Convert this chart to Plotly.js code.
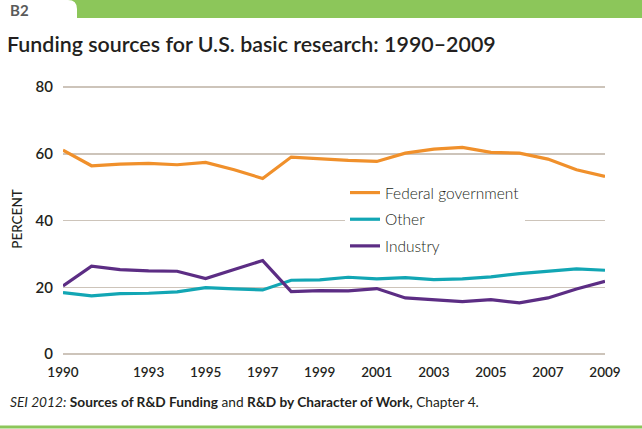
<!DOCTYPE html>
<html>
<head>
<meta charset="utf-8">
<script src="https://cdn.plot.ly/plotly-3.0.1.min.js"></script>
<style>
  html, body { margin: 0; padding: 0; background: #fff; }
  #chart { width: 642px; height: 429px; }
</style>
</head>
<body>
<div id="chart"></div>
<script>
const years = [1990,1991,1992,1993,1994,1995,1996,1997,1998,1999,2000,2001,2002,2003,2004,2005,2006,2007,2008,2009];
const federal = [61.1,56.4,56.9,57.1,56.7,57.4,55.2,52.6,59.0,58.4,58.0,57.7,60.2,61.4,61.9,60.4,60.2,58.4,55.2,53.2];
const other = [18.4,17.4,18.1,18.2,18.6,19.9,19.5,19.2,22.1,22.2,23.0,22.5,22.9,22.3,22.5,23.1,24.1,24.7,25.5,25.1];
const industry = [20.4,26.3,25.3,24.9,24.8,22.6,25.3,28.0,18.7,19.0,18.9,19.6,16.8,16.3,15.7,16.3,15.3,16.8,19.5,21.8];
const seriesNames = ["Federal government", "Other", "Industry"];
const xTicks = [1990,1993,1995,1997,1999,2001,2003,2005,2007,2009];
const yTicks = [0,20,40,60,80];

const colors = ["#F0902B", "#12A6B4", "#5C2D84"];
const gridColor = "#CDC4BA";
const green = "#8CC65A";
const ink = "#231F20";
const FONT = "Lato, 'Open Sans', sans-serif";

// plot area geometry (pixels) -> paper coords for decorations
const L = 63, R = 37, T = 84, B = 75, W = 642, H = 429;
const yMax = 80.9;
const pw = W - L - R, ph = H - T - B;
const px = v => (v - L) / pw;
const py = v => (H - B - v) / ph;

const series = [federal, other, industry];
const traces = series.map((vals, i) => ({
  x: years, y: vals, type: "scatter", mode: "lines",
  name: seriesNames[i], legendgroup: "g" + i,
  line: { color: colors[i], width: 3.2 },
  hoverinfo: "skip"
}));

const bannerPath = `M ${px(68)} ${py(0)} Q ${px(77)} ${py(0)} ${px(77)} ${py(9)} L ${px(77)} ${py(18)} L ${px(642)} ${py(18)} L ${px(642)} ${py(0)} Z`;

const layout = {
  width: W, height: H,
  margin: { l: L, r: R, t: T, b: B, pad: 0 },
  paper_bgcolor: "#fff", plot_bgcolor: "#fff",
  font: { family: FONT, color: ink },
  showlegend: true,
  title: {
    text: "Funding sources for U.S. basic research: 1990–2009",
    font: { family: FONT, size: 21.4, weight: 600, color: ink },
    xref: "container", yref: "container",
    x: 7 / W, xanchor: "left", y: 1 - 45 / H, yanchor: "middle"
  },
  xaxis: {
    range: [1990, 2009], tickvals: xTicks, ticktext: xTicks.map(String),
    showgrid: false, zeroline: false, showline: false,
    ticks: "outside", ticklen: 0, ticklabelstandoff: 6,
    tickfont: { family: FONT, size: 13.5, weight: 600, color: ink },
    fixedrange: true
  },
  yaxis: {
    range: [0, yMax], tickvals: yTicks, ticktext: yTicks.map(String),
    showgrid: true, gridcolor: gridColor, gridwidth: 1.5,
    zeroline: true, zerolinecolor: gridColor, zerolinewidth: 1.5,
    showline: false, ticks: "outside", ticklen: 0, ticklabelstandoff: 6,
    tickfont: { family: FONT, size: 15, weight: 600, color: ink },
    title: { text: "PERCENT", standoff: 9, font: { family: FONT, size: 13.5, weight: 500, color: ink } },
    fixedrange: true
  },
  legend: {
    x: px(345), y: py(176), xanchor: "left", yanchor: "top",
    bgcolor: "#fff", borderwidth: 0,
    font: { family: FONT, size: 15.5, weight: 300, color: ink },
    tracegroupgap: 3.5, itemwidth: 30
  },
  shapes: [
    { type: "path", xref: "paper", yref: "paper", path: bannerPath, fillcolor: green, line: { width: 0 }, layer: "above" },
    { type: "line", xref: "paper", yref: "paper", x0: px(0), x1: px(642), y0: py(427), y1: py(427), line: { color: green, width: 3 } }
  ],
  annotations: [
    { text: "<b>B2</b>", xref: "paper", yref: "paper", x: px(8), y: py(10), xanchor: "left", yanchor: "middle",
      showarrow: false, font: { family: FONT, size: 15, color: "#5A5A5A" } },
    { text: "<i>SEI 2012:</i> <b>Sources of R&amp;D Funding</b> and <b>R&amp;D by Character of Work,</b> Chapter 4.",
      xref: "paper", yref: "paper", x: px(8), y: py(401), xanchor: "left", yanchor: "middle",
      showarrow: false, font: { family: FONT, size: 13.7, color: ink } }
  ]
};

Plotly.newPlot("chart", traces, layout, { displayModeBar: false, staticPlot: true });
</script>
</body>
</html>
